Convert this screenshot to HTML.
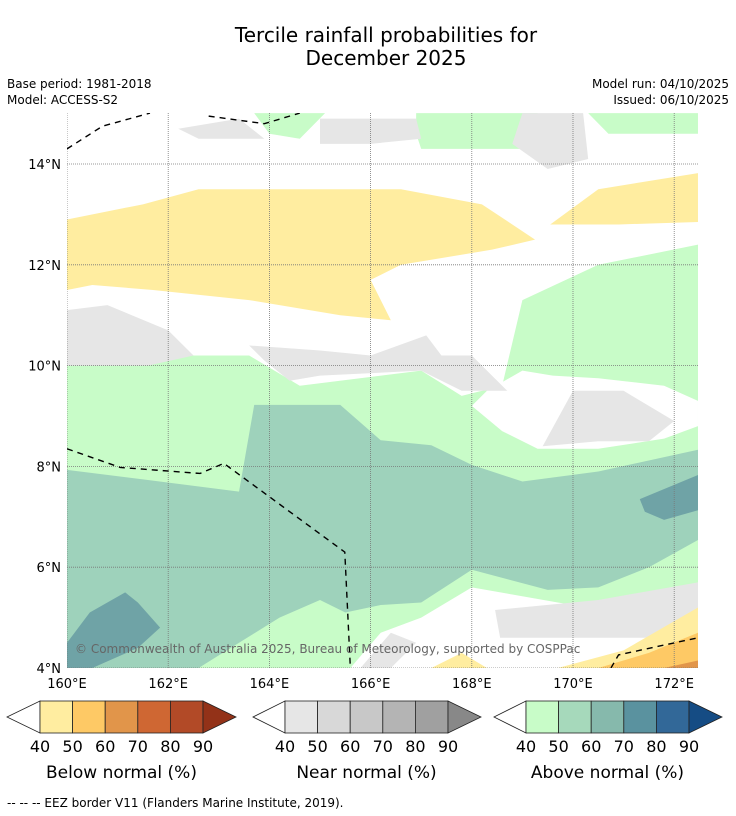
<!DOCTYPE html>
<html><head><meta charset="utf-8"><style>
body{margin:0;background:#fff;width:736px;height:816px;overflow:hidden;font-family:"DejaVu Sans","Liberation Sans",sans-serif}
svg{position:absolute;left:0;top:0}
</style></head><body>
<svg id="s" width="736" height="816">
<text x="386" y="42" font-size="20" text-anchor="middle">Tercile rainfall probabilities for</text>
<text x="386" y="65" font-size="20" text-anchor="middle">December 2025</text>
<text x="7" y="88" font-size="12">Base period: 1981-2018</text>
<text x="7" y="104" font-size="12">Model: ACCESS-S2</text>
<text x="729" y="88" font-size="12" text-anchor="end">Model run: 04/10/2025</text>
<text x="729" y="104" font-size="12" text-anchor="end">Issued: 06/10/2025</text>
<g id="map"></g>
<g id="cb"></g>
<text x="7" y="807" font-size="12">--  --  -- EEZ border V11 (Flanders Marine Institute, 2019).</text>
</svg>
<script>
const lonTicks=[160,162,164,166,168,170,172];
const latTicks=[4,6,8,10,12,14];
const cbLevels=[40,50,60,70,80,90];
const belowColors=["#ffeda0","#fec965","#e1954a","#cf6733","#b24a27","#933218"];
const nearColors=["#e6e6e6","#d8d8d8","#c8c8c8","#b4b4b4","#a0a0a0","#888888"];
const aboveColors=["#c8fcc8","#a6d9bb","#86b9ac","#5a929f","#326898","#154c84"];
const cbTitles=["Below normal (%)","Near normal (%)","Above normal (%)"];
// regions: [fill, polygon lon/lat]
const regions=[
["#c8fcc8",[[160,10.0],[161.6,10.2],[162.6,10.2],[163.6,10.2],[164.6,9.6],[167.0,9.9],[167.8,9.4],[168.6,9.6],[169.0,11.3],[170.5,12.0],[172.47,12.4],[172.47,5.7],[170.9,5.1],[169.7,5.3],[168.0,5.6],[167.0,5.0],[166.2,4.7],[165.6,4.0],[160,4.0]]],
["#ffffff",[[168.3,9.5],[169.0,9.9],[169.6,9.8],[170.5,9.75],[171.8,9.6],[172.47,9.3],[172.47,8.8],[171.8,8.55],[170.5,8.35],[169.3,8.35],[168.6,8.7],[168.0,9.2]]],
["#c8fcc8",[[163.7,15.01],[165.1,15.01],[164.6,14.5],[164.0,14.6]]],
["#c8fcc8",[[166.9,15.01],[169.3,15.01],[169.0,14.3],[167.0,14.3],[166.9,14.6]]],
["#c8fcc8",[[170.3,15.01],[172.47,15.01],[172.47,14.6],[170.7,14.6]]],
["#e6e6e6",[[163.4,14.9],[162.2,14.7],[162.6,14.5],[163.9,14.5]]],
["#e6e6e6",[[165.0,14.9],[166.9,14.9],[167.0,14.5],[166.0,14.4],[165.0,14.4]]],
["#e6e6e6",[[169.0,15.01],[170.2,15.01],[170.3,14.1],[169.5,13.9],[168.8,14.4]]],
["#ffeda0",[[160,12.9],[161.5,13.2],[162.6,13.5],[164.6,13.5],[166.6,13.5],[168.2,13.2],[169.25,12.5],[168.4,12.3],[166.6,12.0],[166.0,11.7],[166.4,10.9],[165.4,11.0],[163.6,11.3],[161.7,11.5],[160.5,11.6],[160,11.5]]],
["#ffeda0",[[169.55,12.8],[170.5,13.5],[172.47,13.82],[172.47,12.85],[170.9,12.8]]],
["#e6e6e6",[[160,11.1],[160.8,11.2],[162.0,10.7],[162.5,10.2],[161.6,10.0],[160.5,10.0],[160,10.0]]],
["#e6e6e6",[[163.6,10.4],[165.0,10.3],[166.0,10.2],[167.1,10.6],[167.4,10.2],[168.0,10.2],[168.7,9.5],[167.8,9.5],[167.0,9.9],[165.0,9.8],[164.4,9.7],[163.9,10.1]]],
["#e6e6e6",[[169.4,8.4],[170.0,9.5],[171.0,9.5],[172.0,8.9],[171.5,8.5],[170.5,8.5]]],
["#9ed2bb",[[160,7.93],[161.6,7.73],[163.4,7.5],[163.7,9.22],[165.4,9.22],[166.2,8.52],[167.2,8.42],[168.0,8.03],[169.0,7.7],[170.5,7.9],[172.47,8.33],[172.47,6.54],[171.5,6.0],[170.5,5.6],[169.5,5.55],[168.0,5.95],[167.0,5.3],[166.2,5.25],[165.5,5.1],[165.0,5.35],[164.2,5.0],[163.4,4.5],[162.6,4.0],[160,4.0]]],
["#6fa3a6",[[160,4.5],[160.45,5.1],[161.15,5.5],[161.4,5.3],[161.84,4.8],[161.4,4.4],[160.5,4.0],[160,4.0]]],
["#6fa3a6",[[171.32,7.35],[172.47,7.83],[172.47,7.13],[171.8,6.94],[171.42,7.1]]],
["#ffffff",[[168.0,5.5],[169.5,5.25],[170.9,5.0],[172.47,5.6],[172.47,4.9],[171.5,4.3],[168.6,4.3],[167.9,4.8]]],
["#e6e6e6",[[168.46,5.15],[170.5,5.35],[172.47,5.7],[172.47,5.15],[171.7,4.6],[168.56,4.6]]],
["#e6e6e6",[[165.8,4.0],[166.4,4.7],[166.9,4.5],[166.4,4.0]]],
["#ffeda0",[[167.2,4.0],[167.8,4.3],[168.3,4.0]]],
["#ffeda0",[[169.7,4.0],[171.0,4.35],[172.47,5.2],[172.47,4.0]]],
["#fec965",[[170.5,4.0],[171.5,4.3],[172.47,4.7],[172.47,4.0]]],
["#e1954a",[[171.8,4.0],[172.47,4.15],[172.47,4.0]]]
];
const eezLines=[
[[160,8.35],[161.05,7.98],[162.63,7.86],[163.1,8.06],[165.49,6.3],[165.6,4.0]],
[[160,14.3],[160.7,14.75],[161.64,15.01]],
[[162.8,14.95],[163.9,14.8],[164.6,15.01]],
[[170.75,4.0],[170.9,4.26],[172.47,4.6]]
];
const X0=67,PXLON=50.6,Y0=668,PXLAT=50.4;
const xs=lon=>X0+(lon-160)*PXLON;
const ys=lat=>Y0-(lat-4)*PXLAT;
const NS="http://www.w3.org/2000/svg";
function mk(t,a,p){const e=document.createElementNS(NS,t);for(const k in a)e.setAttribute(k,a[k]);p.appendChild(e);return e;}
const map=document.getElementById('map');
const defs=mk('defs',{},map);
const cp=mk('clipPath',{id:'clip'},defs);
mk('rect',{x:67,y:113,width:631,height:555},cp);
const g=mk('g',{'clip-path':'url(#clip)'},map);
regions.forEach((r,i)=>{
 const p=mk('polygon',{points:r[1].map(q=>xs(q[0])+','+ys(q[1])).join(' '),fill:r[0]},g);
 
 
});
lonTicks.forEach(l=>{
 const ln=mk('line',{x1:xs(l),x2:xs(l),y1:113,y2:668,stroke:'#777','stroke-width':0.8,'stroke-dasharray':'1,1'},g);
 
 
 const t=mk('text',{x:xs(l),y:688,'font-size':13,'text-anchor':'middle'},map);t.textContent=l+'°E';
 
 
});
latTicks.forEach(l=>{
 const ln=mk('line',{x1:67,x2:698,y1:ys(l),y2:ys(l),stroke:'#777','stroke-width':0.8,'stroke-dasharray':'1,1'},g);
 
 
 const t=mk('text',{x:61,y:ys(l)+5,'font-size':13,'text-anchor':'end'},map);t.textContent=l+'°N';
 
 
});
eezLines.forEach(L=>{
 const p=mk('polyline',{points:L.map(q=>xs(q[0])+','+ys(q[1])).join(' '),fill:'none',stroke:'#000','stroke-width':1.4,'stroke-dasharray':'6,5'},g);
 
 
});
const cr=mk('text',{x:75,y:653,'font-size':12,fill:'#666'},map);
cr.textContent='© Commonwealth of Australia 2025, Bureau of Meteorology, supported by COSPPac';


const cb=document.getElementById('cb');
const bars=[[7,40,belowColors],[253,285,nearColors],[494,526,aboveColors]];
bars.forEach((b,bi)=>{
 const [tip,x0,cols]=b, w=32.6, y0=701, h=32, gg=mk('g',{},cb);
 
 
 mk('polygon',{points:`${tip},${y0+h/2} ${x0},${y0} ${x0},${y0+h}`,fill:'#fff',stroke:'#222','stroke-width':0.8},gg);
 for(let i=0;i<5;i++) mk('rect',{x:x0+i*w,y:y0,width:w,height:h,fill:cols[i],stroke:'#222','stroke-width':0.8},gg);
 const xe=x0+5*w;
 mk('polygon',{points:`${xe},${y0} ${xe+33},${y0+h/2} ${xe},${y0+h}`,fill:cols[5],stroke:'#222','stroke-width':0.8},gg);
 cbLevels.forEach((v,i)=>{const t=mk('text',{x:x0+i*w,y:752,'font-size':16,'text-anchor':'middle'},gg);t.textContent=v;});
 const tt=mk('text',{x:x0+2.5*w,y:778,'font-size':17,'text-anchor':'middle'},gg);tt.textContent=cbTitles[bi];
});
</script>
</body></html>
